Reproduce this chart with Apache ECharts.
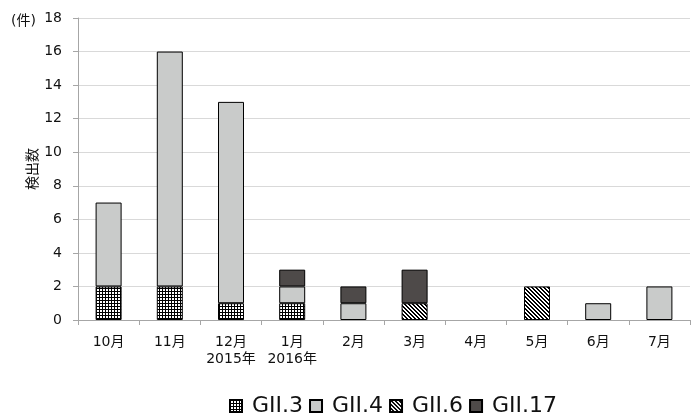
<!DOCTYPE html>
<html>
<head>
<meta charset="utf-8">
<script src="https://cdn.jsdelivr.net/npm/echarts@6/dist/echarts.min.js"></script>
<style>
  html, body { margin: 0; padding: 0; background: #fff; }
  #chart { width: 691px; height: 414px; }
</style>
</head>
<body>
<div id="chart"></div>
<script>
const months = ["10月", "11月", "12月\n2015年", "1月\n2016年", "2月", "3月", "4月", "5月", "6月", "7月"];
const gii3 = [2, 2, 1, 1, "-", "-", "-", "-", "-", "-"];
const gii4 = [5, 14, 12, 1, 1, "-", "-", "-", 1, 2];
const gii6 = ["-", "-", "-", "-", "-", 1, "-", 2, "-", "-"];
const gii17 = ["-", "-", "-", 1, 1, 2, "-", "-", "-", "-"];

const font = '"DejaVu Sans", "Noto Sans CJK JP", sans-serif';

// crosshatch pattern for GII.3
function gridPattern() {
  const c = document.createElement("canvas");
  c.width = 3; c.height = 3;
  const ctx = c.getContext("2d");
  ctx.fillStyle = "#fff";
  ctx.fillRect(0, 0, 3, 3);
  ctx.fillStyle = "#000";
  ctx.fillRect(0, 0, 3, 1);
  ctx.fillRect(0, 0, 1, 3);
  return c;
}

// diagonal stripes for GII.6
function stripePattern() {
  const c = document.createElement("canvas");
  c.width = 4; c.height = 4;
  const ctx = c.getContext("2d");
  ctx.fillStyle = "#fff";
  ctx.fillRect(0, 0, 4, 4);
  ctx.fillStyle = "#000";
  for (let i = 0; i < 4; i++) {
    ctx.fillRect(i, i, 1, 1);
    ctx.fillRect((i + 1) % 4, i, 1, 1);
  }
  return c;
}

const chart = echarts.init(document.getElementById("chart"));

function bar(name, data, color) {
  return {
    name: name,
    type: "bar",
    stack: "total",
    data: data,
    barWidth: 26,
    itemStyle: { color: color, borderColor: "#000", borderWidth: 1 }
  };
}

const option = {
  animation: false,
  textStyle: { fontFamily: font },
  title: {
    text: "(件)",
    left: 6,
    top: 9,
    textStyle: { fontSize: 14, fontWeight: "normal", color: "#111", fontFamily: font }
  },
  grid: { left: 78, right: 1, top: 18, bottom: 94 },
  legend: {
    top: 390,
    left: 224,
    itemWidth: 12,
    itemHeight: 12,
    itemGap: 6,
    icon: "rect",
    textStyle: { fontSize: 22, color: "#111", fontFamily: font, padding: [0, 0, 0, 5] },
    data: ["GII.3", "GII.4", "GII.6", "GII.17"]
  },
  xAxis: {
    type: "category",
    data: months,
    axisLine: { lineStyle: { color: "#a6a6a6" } },
    axisTick: { show: true, length: 5, lineStyle: { color: "#a6a6a6" } },
    axisLabel: { fontSize: 14, color: "#111", margin: 14, lineHeight: 17, interval: 0 }
  },
  yAxis: {
    type: "value",
    min: 0,
    max: 18,
    interval: 2,
    name: "検出数",
    nameLocation: "middle",
    nameGap: 38,
    nameMoveOverlap: false,
    nameRotate: 90,
    nameTextStyle: { fontSize: 14, color: "#111", fontFamily: font },
    axisLine: { show: true, lineStyle: { color: "#a6a6a6" } },
    axisTick: { show: true, length: 5, lineStyle: { color: "#a6a6a6" } },
    axisLabel: { fontSize: 14, color: "#111", margin: 16 },
    splitLine: { lineStyle: { color: "#d9d9d9" } }
  },
  series: [
    bar("GII.3", gii3, { image: gridPattern(), repeat: "repeat" }),
    bar("GII.4", gii4, "#c9cbca"),
    bar("GII.6", gii6, { image: stripePattern(), repeat: "repeat" }),
    bar("GII.17", gii17, "#4e4a49")
  ]
};

chart.setOption(option);
</script>
</body>
</html>
